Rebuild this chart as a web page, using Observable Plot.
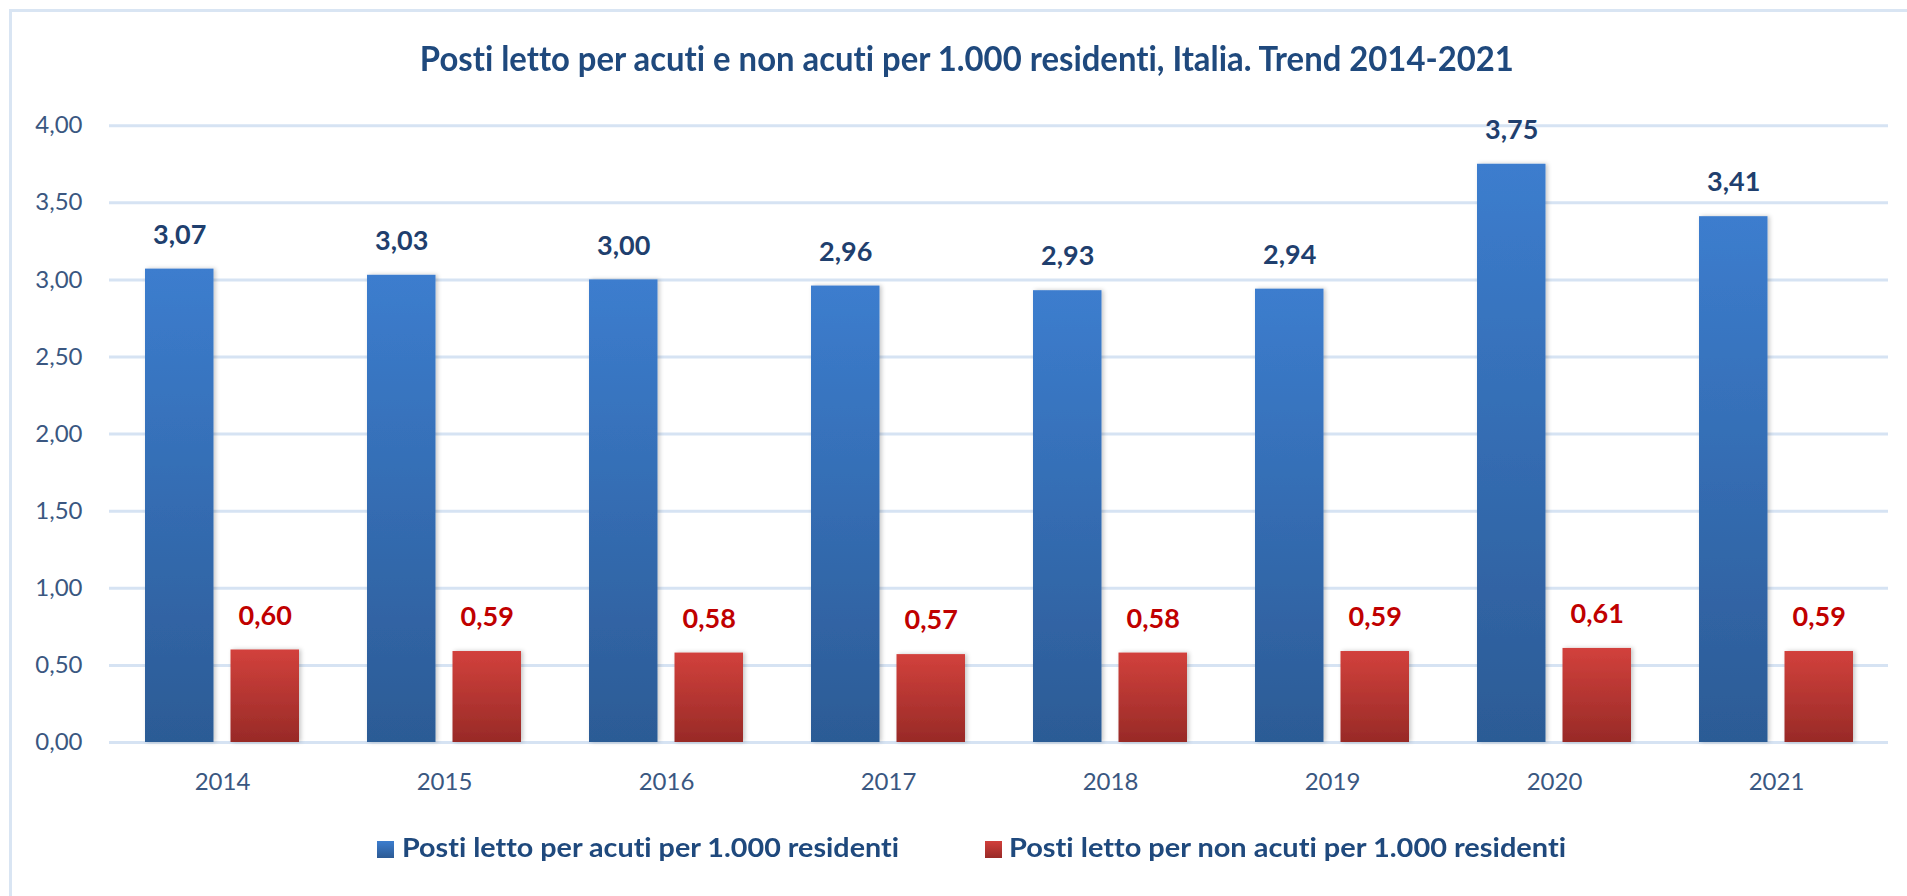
<!DOCTYPE html>
<html>
<head>
<meta charset="utf-8">
<script src="https://cdn.jsdelivr.net/npm/d3@7"></script>
<script src="https://cdn.jsdelivr.net/npm/@observablehq/plot@0.6"></script>
<style>
  html, body { margin: 0; padding: 0; background: #fff; }
  body { width: 1907px; height: 896px; position: relative; overflow: hidden; font-family: Lato, "Open Sans", sans-serif; font-variant-ligatures: none; font-feature-settings: "liga" 0, "clig" 0; }
  svg text { font-variant-ligatures: none; font-feature-settings: "liga" 0, "clig" 0; }
  #frame { position: absolute; left: 9px; top: 9px; width: 1910px; height: 900px; border-top: 3px solid #D9E5F3; border-left: 3px solid #D9E5F3; box-sizing: border-box; }
  #title { position: absolute; left: 0; top: 41px; width: 1934px; text-align: center; font-weight: 700; font-size: 34.5px; line-height: 1; color: #1F497D; white-space: nowrap; }
  #title span { display: inline-block; transform-origin: center center; }
  #chart { position: absolute; left: 0; top: 90px; }
  .lg-sw { position: absolute; width: 17px; height: 17px; top: 841px; }
  .lg-tx { position: absolute; top: 833px; font-weight: 700; font-size: 27px; line-height: 1; color: #1F497D; white-space: nowrap; transform-origin: left center; }
</style>
</head>
<body>
<div id="frame"></div>
<div id="title"><span>Posti letto per acuti e non acuti per 1.000 residenti, Italia. Trend 2014-2021</span></div>
<div id="chart"></div>
<div class="lg-sw" style="left:377px;background:linear-gradient(#3C7DCE,#2C5A94)"></div>
<div class="lg-tx" id="lg1" style="left:402px">Posti letto per acuti per 1.000 residenti</div>
<div class="lg-sw" style="left:985px;background:linear-gradient(#D13F3B,#992A27)"></div>
<div class="lg-tx" id="lg2" style="left:1009px">Posti letto per non acuti per 1.000 residenti</div>
<script>
// ---- data ----
const years = ["2014", "2015", "2016", "2017", "2018", "2019", "2020", "2021"];
const acuti = [3.07, 3.03, 3.00, 2.96, 2.93, 2.94, 3.75, 3.41];
const nonAcuti = [0.60, 0.59, 0.58, 0.57, 0.58, 0.59, 0.61, 0.59];
const yTicks = [0, 0.5, 1, 1.5, 2, 2.5, 3, 3.5, 4];

const it = d3.formatLocale({decimal: ",", thousands: ".", grouping: [3], currency: ["", "€"]});
const fmt = it.format(".2f");

const dataA = years.map((y, i) => ({year: y, value: acuti[i]}));
const dataN = years.map((y, i) => ({year: y, value: nonAcuti[i]}));

const half = 85.5; // inset to split each year band into two bars with a gap

const svg = Plot.plot({
  width: 1907,
  height: 740,
  marginTop: 35.2,
  marginBottom: 88,
  marginLeft: 109,
  marginRight: 19,
  style: {fontFamily: "Lato, 'Open Sans', sans-serif", background: "transparent", overflow: "visible"},
  x: {domain: years, paddingInner: 0.3076, paddingOuter: 0.1538, label: null},
  y: {domain: [0, 4], label: null},
  marks: [
    Plot.gridY(yTicks, {stroke: "#D6E3F3", strokeOpacity: 1, strokeWidth: 3}),
    Plot.axisY(yTicks, {tickSize: 0, tickPadding: 27, tickFormat: fmt, fontSize: 24, fill: "#3A5781", label: null}),
    Plot.axisX({tickSize: 0, tickPadding: 30, fontSize: 24, fill: "#3A5781", label: null}),
    Plot.barY(dataA, {x: "year", y: "value", fill: "url(#gA)", insetRight: half}),
    Plot.barY(dataN, {x: "year", y: "value", fill: "url(#gN)", insetLeft: half}),
    Plot.text(dataA, {x: "year", y: "value", text: d => fmt(d.value), dx: -half / 2, dy: -34, fontSize: 27, fontWeight: 700, fill: "#1F3F6E"}),
    Plot.text(dataN, {x: "year", y: "value", text: d => fmt(d.value), dx: half / 2, dy: -34, fontSize: 27, fontWeight: 700, fill: "#C00000"})
  ]
});

const s = d3.select(svg);
const defs = s.insert("defs", ":first-child");
function grad(id, top, bottom) {
  const g = defs.append("linearGradient").attr("id", id).attr("x1", 0).attr("y1", 0).attr("x2", 0).attr("y2", 1);
  g.append("stop").attr("offset", "0%").attr("stop-color", top);
  g.append("stop").attr("offset", "100%").attr("stop-color", bottom);
}
grad("gA", "#3C7DCE", "#2C5B95");
grad("gN", "#D2413C", "#982A27");
const f = defs.append("filter").attr("id", "sh").attr("x", "-20%").attr("y", "-10%").attr("width", "140%").attr("height", "120%");
f.append("feDropShadow").attr("dx", 2).attr("dy", 0).attr("stdDeviation", 2).attr("flood-color", "#000").attr("flood-opacity", 0.22);
s.selectAll('g[aria-label="bar"]').attr("filter", "url(#sh)");

document.getElementById("chart").appendChild(svg);

// horizontal fitting of the Calibri-like text widths
function fitX(el, target) {
  const w = el.getBoundingClientRect().width;
  if (w > 0) el.style.transform = `scaleX(${target / w})`;
}
fitX(document.querySelector("#title span"), 1094);
fitX(document.getElementById("lg1"), 497);
fitX(document.getElementById("lg2"), 557);
</script>
</body>
</html>
